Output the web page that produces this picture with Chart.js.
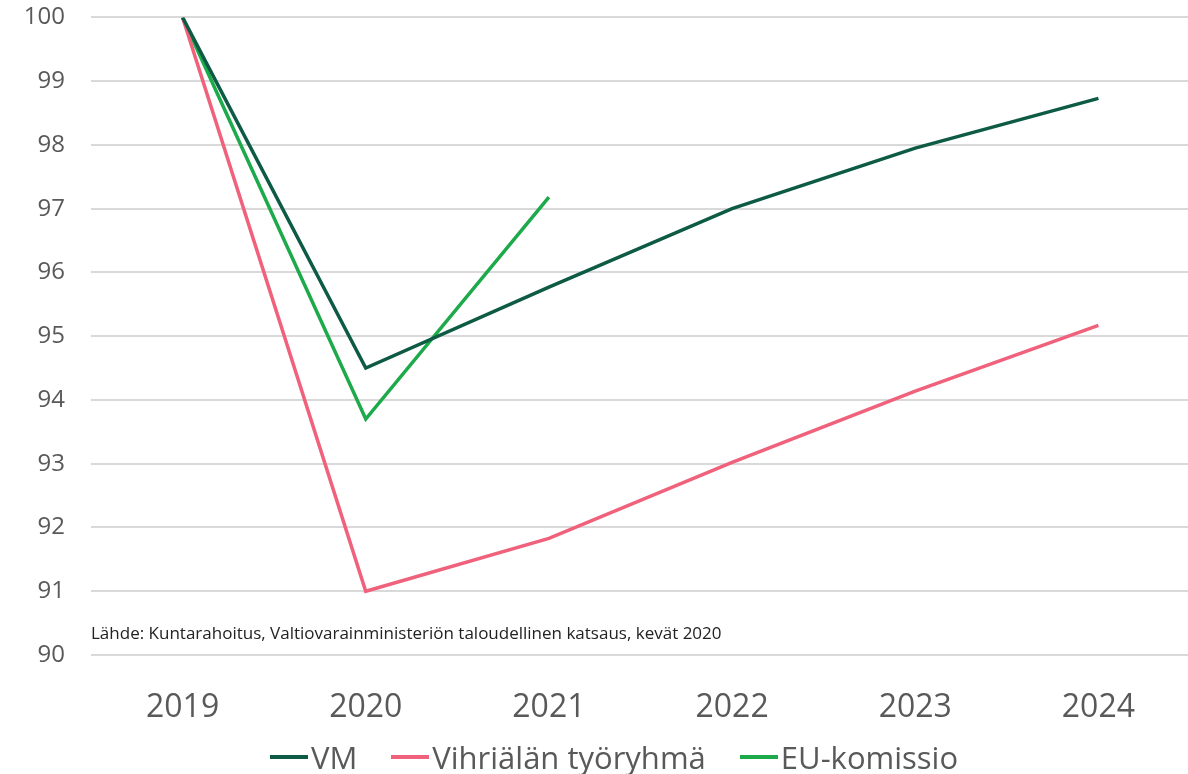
<!DOCTYPE html>
<html lang="fi">
<head>
    <meta charset="UTF-8">
    <title>BKT-ennusteet</title>
    <style>
        html, body { margin: 0; padding: 0; background: #ffffff; overflow: hidden; }
        #wrap { position: absolute; left: 0; top: 0; width: 1190px; height: 739px; }
        #legend {
            position: absolute; left: 0; top: 737px; width: 1188px; height: 40px;
            display: flex; justify-content: center; align-items: center;
            padding-left: 40px; box-sizing: border-box;
            font-family: "Open Sans", "Liberation Sans", sans-serif;
            font-size: 31px; color: #595959;
        }
        .item { display: flex; align-items: center; margin-right: 34px; }
        .item:last-child { margin-right: 0; }
        .swatch { width: 38px; height: 4px; margin-right: 3px; }
    </style>
</head>
<body>
    <div id="wrap"><canvas id="gdpChart"></canvas></div>
    <div id="legend"></div>

    <script src="https://cdn.jsdelivr.net/npm/chart.js"></script>
    <script>
        // Data (index, 2019 = 100)
        const years = ['2019', '2020', '2021', '2022', '2023', '2024'];
        const vmValues = [100, 94.5, 95.77, 97.0, 97.95, 98.73];
        const vihriala = [100, 91.0, 91.83, 93.02, 94.14, 95.17];
        const euKomissio = [100, 93.7, 97.18, null, null, null];
        const yTicks = [90, 91, 92, 93, 94, 95, 96, 97, 98, 99, 100];
        const sourceNote = 'Lähde: Kuntarahoitus, Valtiovarainministeriön taloudellinen katsaus, kevät 2020';

        const fontFamily = '"Open Sans", "Liberation Sans", sans-serif';

        // draws the source line inside the plot, just above the 90 gridline
        const sourcePlugin = {
            id: 'sourceNote',
            afterDraw(chart) {
                const ctx = chart.ctx;
                const y = chart.scales.y.getPixelForValue(90.33);
                ctx.save();
                ctx.font = '17px ' + fontFamily;
                ctx.fillStyle = '#222222';
                ctx.textBaseline = 'middle';
                ctx.fillText(sourceNote, chart.chartArea.left, y);
                ctx.restore();
            }
        };

        const ctx = document.getElementById('gdpChart').getContext('2d');
        const chart = new Chart(ctx, {
            type: 'line',
            data: {
                labels: years,
                datasets: [
                    { label: 'VM', data: vmValues, borderColor: '#0e5b45', backgroundColor: '#0e5b45' },
                    { label: 'Vihriälän työryhmä', data: vihriala, borderColor: '#f0627c', backgroundColor: '#f0627c' },
                    { label: 'EU-komissio', data: euKomissio, borderColor: '#1caa4a', backgroundColor: '#1caa4a' }
                ]
            },
            options: {
                responsive: true,
                maintainAspectRatio: false,
                animation: false,
                layout: { padding: 0 },
                elements: {
                    line: { borderWidth: 3.5, tension: 0 },
                    point: { radius: 0, hoverRadius: 0 }
                },
                plugins: {
                    legend: { display: false },
                    tooltip: { enabled: false }
                },
                scales: {
                    x: {
                        offset: true,
                        afterFit(scale) {
                            scale.height = 84;
                        },
                        grid: { display: false },
                        border: { display: false },
                        ticks: {
                            color: '#595959',
                            font: { family: fontFamily, size: 32 },
                            padding: 26
                        }
                    },
                    y: {
                        min: 90,
                        max: 100,
                        afterBuildTicks(scale) {
                            scale.ticks = yTicks.map(v => ({ value: v }));
                        },
                        afterFit(scale) {
                            scale.width = 91;
                        },
                        grid: {
                            color: '#d9d9d9', lineWidth: 2,
                            drawTicks: true, tickLength: 23, tickColor: 'rgba(0,0,0,0)'
                        },
                        border: { display: false },
                        ticks: {
                            color: '#595959',
                            font: { family: fontFamily, size: 24 },
                            padding: 3
                        }
                    }
                }
            },
            plugins: [sourcePlugin]
        });

        // legend as plain html, built from the datasets
        const legendEl = document.getElementById('legend');
        chart.data.datasets.forEach(ds => {
            const item = document.createElement('div');
            item.className = 'item';
            const sw = document.createElement('span');
            sw.className = 'swatch';
            sw.style.background = ds.borderColor;
            const txt = document.createElement('span');
            txt.textContent = ds.label;
            item.appendChild(sw);
            item.appendChild(txt);
            legendEl.appendChild(item);
        });
    </script>
</body>
</html>
